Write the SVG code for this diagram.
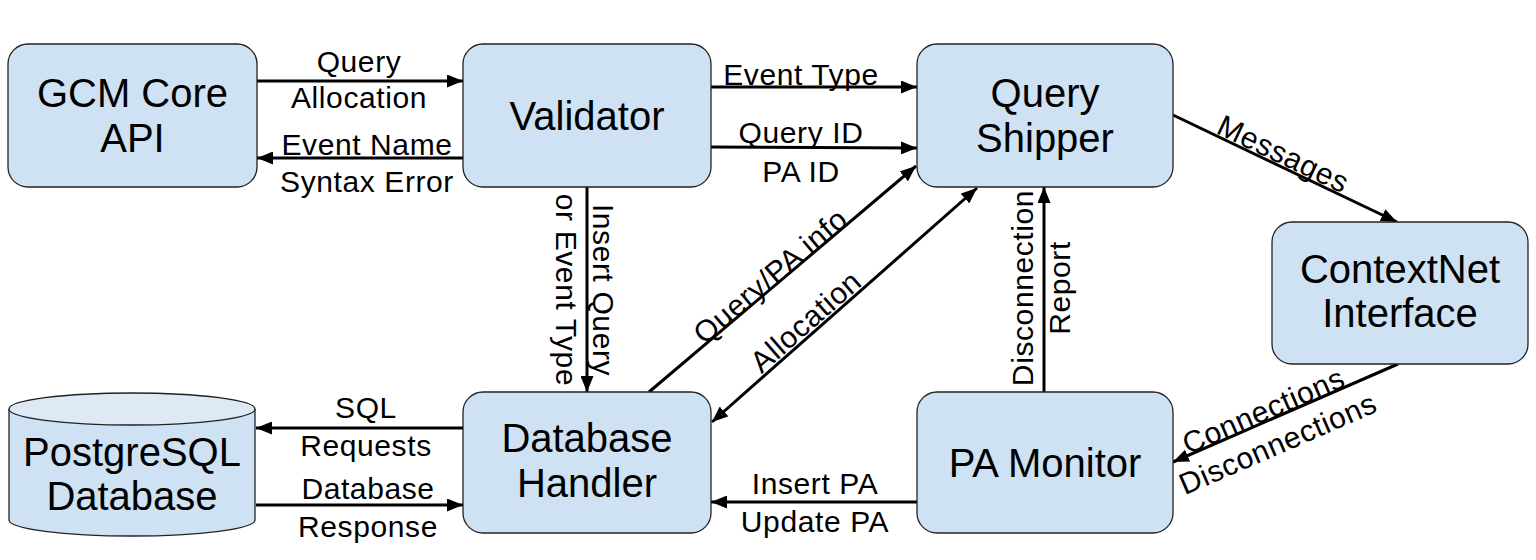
<svg xmlns="http://www.w3.org/2000/svg" width="1536" height="560" viewBox="0 0 1536 560">
<style>
.box{fill:#cfe2f3;stroke:#222;stroke-width:1.3}
.nt{font-family:"Liberation Sans",Arial,sans-serif;font-size:40px;fill:#000;text-anchor:middle}
.lt{font-family:"Liberation Sans",Arial,sans-serif;font-size:30px;letter-spacing:0.6px;fill:#000;text-anchor:middle}
.ln{stroke:#000;stroke-width:3;fill:none}
</style>
<defs>
<marker id="ah" markerUnits="userSpaceOnUse" markerWidth="17" markerHeight="13" refX="16" refY="6.5" orient="auto-start-reverse">
<path d="M0,0 L16,6.5 L0,13 z" fill="#000"/>
</marker>
</defs>
<rect width="1536" height="560" fill="#fff"/>

<g id="connectors">
<line class="ln" x1="257" y1="81" x2="463" y2="81" marker-end="url(#ah)"/>
<line class="ln" x1="463" y1="158" x2="257" y2="158" marker-end="url(#ah)"/>
<line class="ln" x1="711" y1="87" x2="917" y2="87" marker-end="url(#ah)"/>
<line class="ln" x1="711" y1="147" x2="917" y2="148" marker-end="url(#ah)"/>
<line class="ln" x1="587" y1="187" x2="587" y2="392" marker-end="url(#ah)"/>
<line class="ln" x1="649" y1="392" x2="916" y2="166" marker-end="url(#ah)"/>
<line class="ln" x1="712" y1="422" x2="977" y2="188" marker-start="url(#ah)" marker-end="url(#ah)"/>
<line class="ln" x1="1044" y1="392" x2="1044" y2="187" marker-end="url(#ah)"/>
<line class="ln" x1="1173" y1="115" x2="1397" y2="222" marker-end="url(#ah)"/>
<line class="ln" x1="1398" y1="364" x2="1173" y2="462" marker-end="url(#ah)"/>
<line class="ln" x1="463" y1="428" x2="256" y2="428" marker-end="url(#ah)"/>
<line class="ln" x1="256" y1="505" x2="463" y2="505" marker-end="url(#ah)"/>
<line class="ln" x1="917" y1="502" x2="711" y2="502" marker-end="url(#ah)"/>

<text class="lt" x="359" y="72">Query</text>
<text class="lt" x="359" y="108">Allocation</text>
<text class="lt" x="367" y="155">Event Name</text>
<text class="lt" x="367" y="192">Syntax Error</text>
<text class="lt" x="801" y="85">Event Type</text>
<text class="lt" x="801" y="143">Query ID</text>
<text class="lt" x="801" y="182">PA ID</text>
<g transform="translate(587,290) rotate(90)">
<text class="lt" x="0" y="-6">Insert Query</text>
<text class="lt" x="0" y="31">or Event Type</text>
</g>
<g transform="translate(1044,288) rotate(-90)">
<text class="lt" x="0" y="-11">Disconnection</text>
<text class="lt" x="0" y="26">Report</text>
</g>
<text class="lt" transform="translate(777,284) rotate(-40.2)" x="0" y="0">Query/PA info</text>
<text class="lt" transform="translate(814.5,331.5) rotate(-41.4)" x="0" y="-3">Allocation</text>
<text class="lt" transform="translate(1278,165) rotate(25.5)" x="0" y="-2">Messages</text>
<g transform="translate(1268,421) rotate(-23.5)">
<text class="lt" x="0" y="-1">Connections</text>
<text class="lt" x="0" y="35">Disconnections</text>
</g>
<text class="lt" x="366" y="418">SQL</text>
<text class="lt" x="366" y="456">Requests</text>
<text class="lt" x="368" y="499">Database</text>
<text class="lt" x="368" y="537">Response</text>
<text class="lt" x="815" y="494">Insert PA</text>
<text class="lt" x="815" y="532">Update PA</text>
</g>

<g id="gcm">
<rect class="box" x="8" y="44" width="249" height="143" rx="20"/>
<text class="nt" x="132.5" y="107">GCM Core</text>
<text class="nt" x="132.5" y="152">API</text>
</g>
<g id="validator">
<rect class="box" x="463" y="44" width="248" height="143" rx="20"/>
<text class="nt" x="587" y="130">Validator</text>
</g>
<g id="shipper">
<rect class="box" x="917" y="44" width="256" height="143" rx="20"/>
<text class="nt" x="1045" y="107">Query</text>
<text class="nt" x="1045" y="152">Shipper</text>
</g>
<g id="contextnet">
<rect class="box" x="1272" y="222" width="256" height="142" rx="20"/>
<text class="nt" x="1400" y="283">ContextNet</text>
<text class="nt" x="1400" y="327">Interface</text>
</g>
<g id="postgres">
<path class="box" d="M9,409 L9,520 A123,16 0 0 0 255,520 L255,409"/>
<ellipse cx="132" cy="409" rx="123" ry="16" fill="#dde9f5" stroke="#222" stroke-width="1.3"/>
<text class="nt" x="132" y="466">PostgreSQL</text>
<text class="nt" x="132" y="510">Database</text>
</g>
<g id="dbhandler">
<rect class="box" x="463" y="392" width="248" height="141" rx="20"/>
<text class="nt" x="587" y="452">Database</text>
<text class="nt" x="587" y="497">Handler</text>
</g>
<g id="pamonitor">
<rect class="box" x="917" y="392" width="256" height="141" rx="20"/>
<text class="nt" x="1045" y="477">PA Monitor</text>
</g>
</svg>
